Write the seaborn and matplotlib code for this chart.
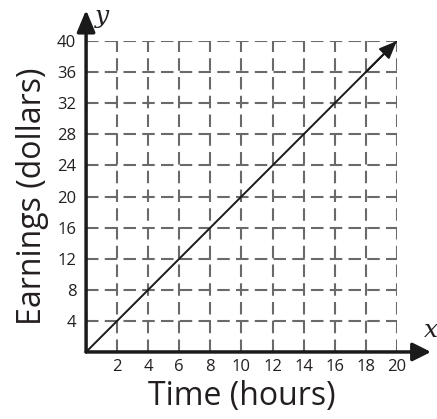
import matplotlib
matplotlib.use("Agg")
import matplotlib.pyplot as plt
import seaborn as sns
import pandas as pd

# values
hours = [0, 2, 4, 6, 8, 10, 12, 14, 16, 18, 20]
earnings = [0, 4, 8, 12, 16, 20, 24, 28, 32, 36, 40]
x_ticks = [2, 4, 6, 8, 10, 12, 14, 16, 18, 20]
y_ticks = [4, 8, 12, 16, 20, 24, 28, 32, 36, 40]

sns.set_style("white")
plt.rcParams['font.family'] = ['Open Sans', 'DejaVu Sans']

df = pd.DataFrame({'hours': hours, 'earnings': earnings})

fig = plt.figure(figsize=(4.37, 4.19), dpi=100)
ax = fig.add_axes([0.197, 0.160, 0.711, 0.742])

sns.lineplot(data=df, x='hours', y='earnings', ax=ax, color='#1a1a1a', linewidth=1.4)
ax.annotate('', xy=(hours[-1], earnings[-1]), xytext=(hours[-2], earnings[-2]),
            arrowprops=dict(arrowstyle='-|>,head_length=0.6,head_width=0.25', color='#1a1a1a',
                            lw=1.4, mutation_scale=18, shrinkA=0, shrinkB=0))

ax.set_xlim(0, 20)
ax.set_ylim(0, 40)
ax.set_xticks(x_ticks)
ax.set_yticks(y_ticks)
ax.grid(True, color='#6a6a6a', linestyle=(0, (6, 3)), linewidth=1.5)
ax.tick_params(axis='both', length=0, labelsize=12, colors='#231f20')
ax.tick_params(axis='y', pad=7)
ax.tick_params(axis='x', pad=5)

for s in ['top', 'right', 'left', 'bottom']:
    ax.spines[s].set_visible(False)

# axes with arrowheads
ax.annotate('', xy=(1.11, 0), xytext=(0, 0), xycoords='axes fraction',
            arrowprops=dict(arrowstyle='-|>,head_length=0.5,head_width=0.25', color='#1a1a1a',
                            lw=2.5, mutation_scale=22, shrinkA=0, shrinkB=0),
            annotation_clip=False)
ax.annotate('', xy=(0, 1.10), xytext=(0, 0), xycoords='axes fraction',
            arrowprops=dict(arrowstyle='-|>,head_length=0.6,head_width=0.25', color='#1a1a1a',
                            lw=2.5, mutation_scale=22, shrinkA=0, shrinkB=0),
            annotation_clip=False)
ax.text(1.11, 0.07, 'x', transform=ax.transAxes, fontsize=18, style='italic',
        family='DejaVu Serif', ha='center', va='center', color='#231f20')
ax.text(0.05, 1.08, 'y', transform=ax.transAxes, fontsize=18, style='italic',
        family='DejaVu Serif', ha='center', va='center', color='#231f20')

ax.set_xlabel('Time (hours)', fontsize=23, color='#231f20', labelpad=4)
ax.set_ylabel('Earnings (dollars)', fontsize=23, color='#231f20', labelpad=6)

fig.savefig('out.png', dpi=100)
